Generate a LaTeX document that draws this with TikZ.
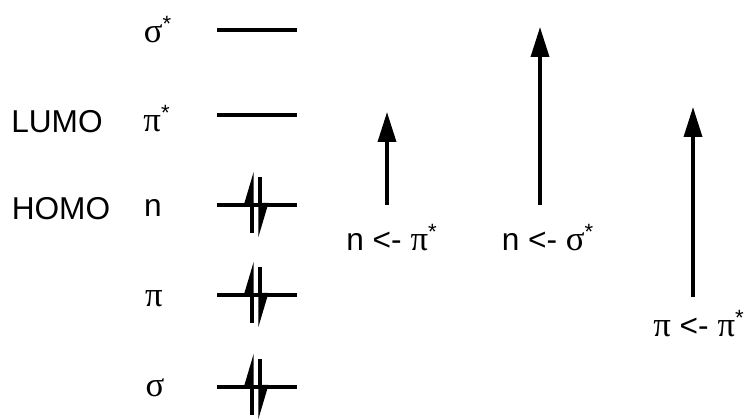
\documentclass[tikz,border=0pt]{standalone}
\usepackage{fontspec}
\setmainfont{Liberation Sans}
\newfontfamily\grk[Scale=1.1]{Liberation Serif}
\usetikzlibrary{arrows.meta,calc}
\newcommand{\gs}[1]{{\grk #1}}
\begin{document}
\begin{tikzpicture}[
  x=0.02cm, y=-0.02cm, font=\fontsize{18}{22}\selectfont,
  lvl/.style={line width=2pt},
  spin/.style={line width=1.9pt, -{Triangle[harpoon, length=0.58cm, width=0.32cm]}},
  arr/.style={line width=2pt, -{Triangle[length=0.6cm, width=0.36cm]}},
  lbl/.style={inner sep=0pt}
]
\useasboundingbox (0,0) rectangle (746,419);

%% Orbital names
\node[lbl] (sgs-lbl) at (158,30) {\gs{σ}\textsuperscript{*}};
\node[lbl] (pis-lbl) at (157,119) {\gs{π}\textsuperscript{*}};
\node[lbl] (n-lbl) at (153,208) {n};
\node[lbl] (pi-lbl) at (154,299) {\gs{π}};
\node[lbl] (sg-lbl) at (155,388) {\gs{σ}};
\node[lbl] (lumo) at (57,122) {LUMO};
\node[lbl] (homo) at (61,209) {HOMO};

%% Levels
\coordinate (sgs-w) at (217,30);  \coordinate (sgs-e) at (297,30);
\coordinate (pis-w) at (217,115); \coordinate (pis-e) at (297,115);
\coordinate (n-w) at (217,205);   \coordinate (n-e) at (297,205);
\coordinate (pi-w) at (217,295);  \coordinate (pi-e) at (297,295);
\coordinate (sg-w) at (217,387);  \coordinate (sg-e) at (297,387);
\draw[lvl] (sgs-w) -- (sgs-e);
\draw[lvl] (pis-w) -- (pis-e);
\draw[lvl] (n-w) -- (n-e);
\draw[lvl] (pi-w) -- (pi-e);
\draw[lvl] (sg-w) -- (sg-e);

%% Electron pairs
\foreach \o in {n, pi, sg} {
  \draw[spin] ($(\o-w)+(35,28)$) -- ($(\o-w)+(35,-34)$);
  \draw[spin] ($(\o-w)+(43,-28)$) -- ($(\o-w)+(43,33)$);
}

%% Transitions
\node[lbl] (t1) at (392,238) {n <- \gs{π}\textsuperscript{*}};
\node[lbl] (t2) at (548,238) {n <- \gs{σ}\textsuperscript{*}};
\node[lbl, anchor=west] (t3) at (653,324) {\gs{π} <- \gs{π}\textsuperscript{*}};
\coordinate (t1-lo) at (387,205); \coordinate (t1-hi) at (387,112);
\coordinate (t2-lo) at (540,205); \coordinate (t2-hi) at (540,27);
\coordinate (t3-lo) at (693,297); \coordinate (t3-hi) at (693,107);
\draw[arr] (t1-lo) -- (t1-hi);
\draw[arr] (t2-lo) -- (t2-hi);
\draw[arr] (t3-lo) -- (t3-hi);
\end{tikzpicture}
\end{document}
